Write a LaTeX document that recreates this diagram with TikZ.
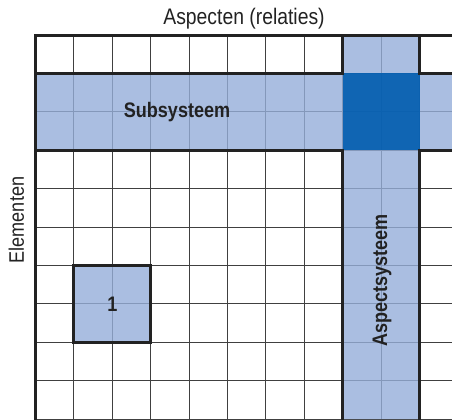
\documentclass[tikz,border=0pt]{standalone}
\usepackage{fontspec}
\setmainfont{Liberation Sans}[FakeStretch=0.86]
\usepackage{tikz}
\definecolor{lichtblauw}{RGB}{149,174,217}
\definecolor{donkerblauw}{RGB}{0,92,174}
\definecolor{inkt}{RGB}{34,34,34}
\tikzset{
	rooster/.style={line width=1pt, color=black!75},
	kader/.style={line width=3pt, color=inkt, line cap=rect},
	opschrift/.style={inner sep=0pt, anchor=base, text=inkt, font=\fontsize{22.5}{26}\selectfont},
	vak/.style={inner sep=0pt, text=inkt, font=\bfseries\fontsize{21}{24}\selectfont}
}

\begin{document}
\begin{tikzpicture}[x=38.4pt, y=-38.4pt]
	\useasboundingbox (-0.9245, -0.9115) rectangle (10.846, 10);

	\foreach \i in {0, ..., 10}
	\draw[rooster] (\i, 0) -- (\i, 10);
	\foreach \j in {0, ..., 10}
	\draw[rooster] (0, \j) -- (11, \j);

	\fill[lichtblauw, fill opacity=0.8] (0, 1) rectangle (11, 3) (8, 0) rectangle (10, 10)
		(1, 6) rectangle (3, 8);
	\fill[donkerblauw, fill opacity=0.9] (8, 1) rectangle (10, 3);

	\draw[kader] (11, 0) -- (0, 0) -- (0, 10);
	\draw[kader] (0, 1) -- (8, 1) -- (8, 0);
	\draw[kader] (10, 0) -- (10, 1) -- (11, 1);
	\draw[kader] (0, 3) -- (8, 3) -- (8, 10);
	\draw[kader] (10, 10) -- (10, 3) -- (11, 3);
	\draw[kader] (1, 6) rectangle (3, 8);

	\node[opschrift] (aspecten) at (5.43, -0.286) {Aspecten (relaties)};
	\node[opschrift, rotate=90, font=\fontsize{21}{24}\selectfont] (elementen) at (-0.30, 4.818) {Elementen};
	\node[vak, anchor=base] (subsysteem) at (3.685, 2.143) {Subsysteem};
	\node[vak, anchor=base, rotate=90] (aspectsysteem) at (9.154, 6.393) {Aspectsysteem};
	\node[vak] (element) at (2, 7) {1};
\end{tikzpicture}
\end{document}
